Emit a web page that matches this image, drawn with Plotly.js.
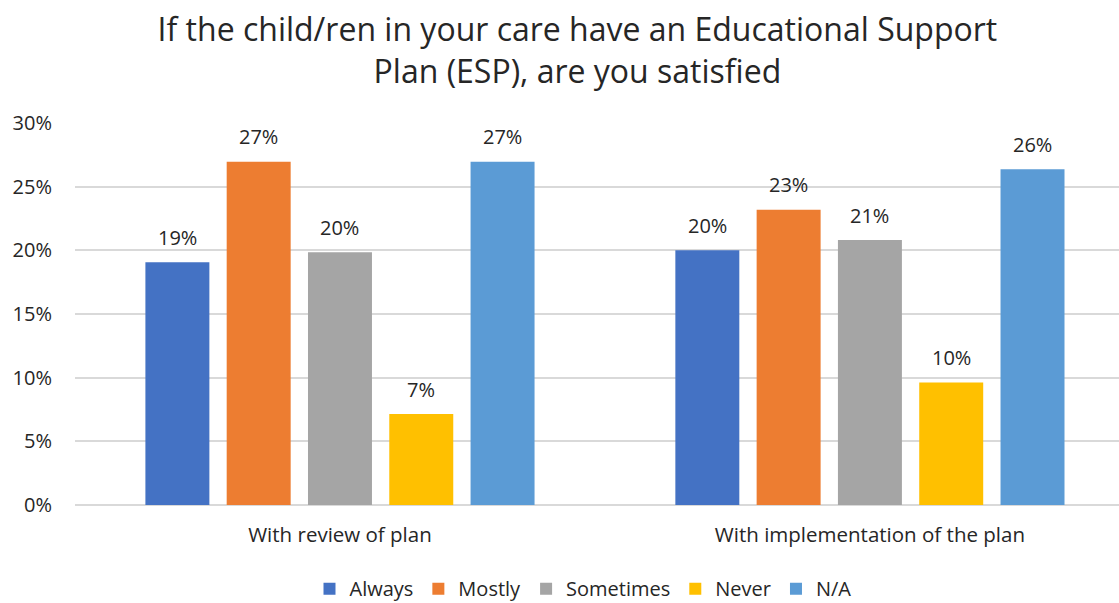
<!DOCTYPE html>
<html>
<head>
<meta charset="utf-8">
<script src="https://cdn.plot.ly/plotly-3.0.1.min.js"></script>
<style>html,body{margin:0;padding:0;background:#fff;}#chart{width:1119px;height:603px;}</style>
</head>
<body>
<div id="chart"></div>
<script>
const categories = ["With review of plan", "With implementation of the plan"];
const seriesNames = ["Always", "Mostly", "Sometimes", "Never", "N/A"];
const always = [0.1906, 0.200];
const mostly = [0.2696, 0.2319];
const sometimes = [0.1985, 0.2081];
const never = [0.0714, 0.0962];
const na = [0.2696, 0.2636];
const colors = ["#4472C4", "#ED7D31", "#A5A5A5", "#FFC000", "#5B9BD5"];
const seriesValues = [always, mostly, sometimes, never, na];

const font = "'Open Sans', sans-serif";
const textColor = "#262626";
const bargap = 0.233;
const bargroupgap = 0.213;

const traces = seriesValues.map((vals, i) => ({
  type: "bar",
  name: seriesNames[i],
  x: categories,
  y: vals,
  marker: {color: colors[i]},
  hoverinfo: "none"
}));

// data labels above each bar, built from the same arrays
const slot = (1 - bargap) / seriesValues.length;
const annotations = [];
seriesValues.forEach((vals, i) => {
  vals.forEach((v, c) => {
    annotations.push({
      x: c + (i - (seriesValues.length - 1) / 2) * slot,
      y: v, xref: "x", yref: "y",
      text: Math.round(v * 100) + "%",
      showarrow: false, yanchor: "middle", yshift: 25,
      font: {family: font, size: 20, color: textColor}
    });
  });
});

const layout = {
  width: 1119, height: 603,
  margin: {l: 75, r: 0, t: 123, b: 98, autoexpand: false},
  paper_bgcolor: "#fff", plot_bgcolor: "#fff",
  title: {text: "If the child/ren in your care have an Educational Support<br>Plan (ESP), are you satisfied",
    font: {family: font, size: 32, color: textColor}, xref: "container", x: 0.516, xanchor: "center", y: 0.932, yanchor: "top"},
  barmode: "group",
  bargap: bargap,
  bargroupgap: bargroupgap,
  annotations: annotations,
  xaxis: {type: "category", range: [-0.5, 1.47], tickfont: {family: font, size: 20.5, color: textColor}, showline: false, ticks: "", ticklabelstandoff: 15},
  yaxis: {range: [0, 0.30], dtick: 0.05, tickformat: ".0%", gridcolor: "#D9D9D9", gridwidth: 2,
    tickfont: {family: font, size: 20, color: textColor}, zeroline: true, zerolinecolor: "#D9D9D9", zerolinewidth: 2, ticklabelstandoff: 22},
  showlegend: true,
  legend: {orientation: "h", xref: "container", x: 0.521, xanchor: "center", yref: "paper", y: -0.168, yanchor: "top",
    font: {family: font, size: 20, color: textColor}, itemwidth: 30, traceorder: "normal"}
};
Plotly.newPlot("chart", traces, layout, {displayModeBar: false, staticPlot: true});
</script>
</body>
</html>
